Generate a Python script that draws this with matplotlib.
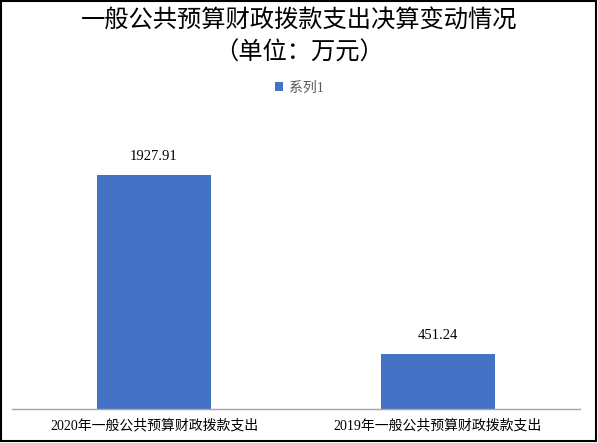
import matplotlib
matplotlib.use('Agg')
import matplotlib.pyplot as plt
from matplotlib.patches import Rectangle

plt.rcParams['font.family'] = ['Liberation Serif', 'Noto Sans CJK SC', 'DejaVu Sans']

categories = ['2020年一般公共预算财政拨款支出', '2019年一般公共预算财政拨款支出']
values = [1927.91, 451.24]
labels = ['1927.91', '451.24']
series_name = '系列1'
title = '一般公共预算财政拨款支出决算变动情况\n（单位：万元）'

W, H = 598, 443
fig = plt.figure(figsize=(W / 100, H / 100), dpi=100)
ax = fig.add_axes([12 / W, (H - 409) / H, (580 - 12) / W, (409 - 110) / H])

bar_color = '#4472C4'
bars = ax.bar(range(len(values)), values, width=0.4, color=bar_color, label=series_name)
ax.set_xlim(-0.5, 1.5)
ax.set_ylim(0, 299 / (234 / 1927.91))

for b, t in zip(bars, labels):
    ax.annotate(t, (b.get_x() + b.get_width() / 2, b.get_height()),
                xytext=(0, 9), textcoords='offset points', ha='center', va='bottom',
                fontsize=10.5, family='Liberation Serif')

ax.set_xticks(range(len(values)))
ax.set_xticklabels(categories, fontsize=10, family=['Liberation Serif', 'Noto Sans CJK SC'])
ax.tick_params(axis='x', length=0, pad=7)
ax.set_yticks([])
for s in ['top', 'left', 'right']:
    ax.spines[s].set_visible(False)
ax.spines['bottom'].set_color('#A6A6A6')
ax.spines['bottom'].set_linewidth(1)

fig.text(0.5, 1 - 37 / H, title, ha='center', va='center', fontsize=17.5,
         family=['Noto Sans CJK SC', 'DejaVu Sans'], linespacing=1.3)

leg = fig.legend(handles=[bars], labels=[series_name], loc='center',
                 bbox_to_anchor=(0.5, 1 - 88 / H), frameon=False,
                 handlelength=0.6, handleheight=0.6, handletextpad=0.4,
                 prop={'family': ['Liberation Serif', 'Noto Sans CJK SC'], 'size': 10})
for t in leg.get_texts():
    t.set_color('#595959')

fig.patches.append(Rectangle((1 / W, 2 / H), (W - 3) / W, (H - 3) / H, transform=fig.transFigure,
                             fill=False, edgecolor='black', linewidth=1.5))

fig.savefig('out.png', dpi=100)
